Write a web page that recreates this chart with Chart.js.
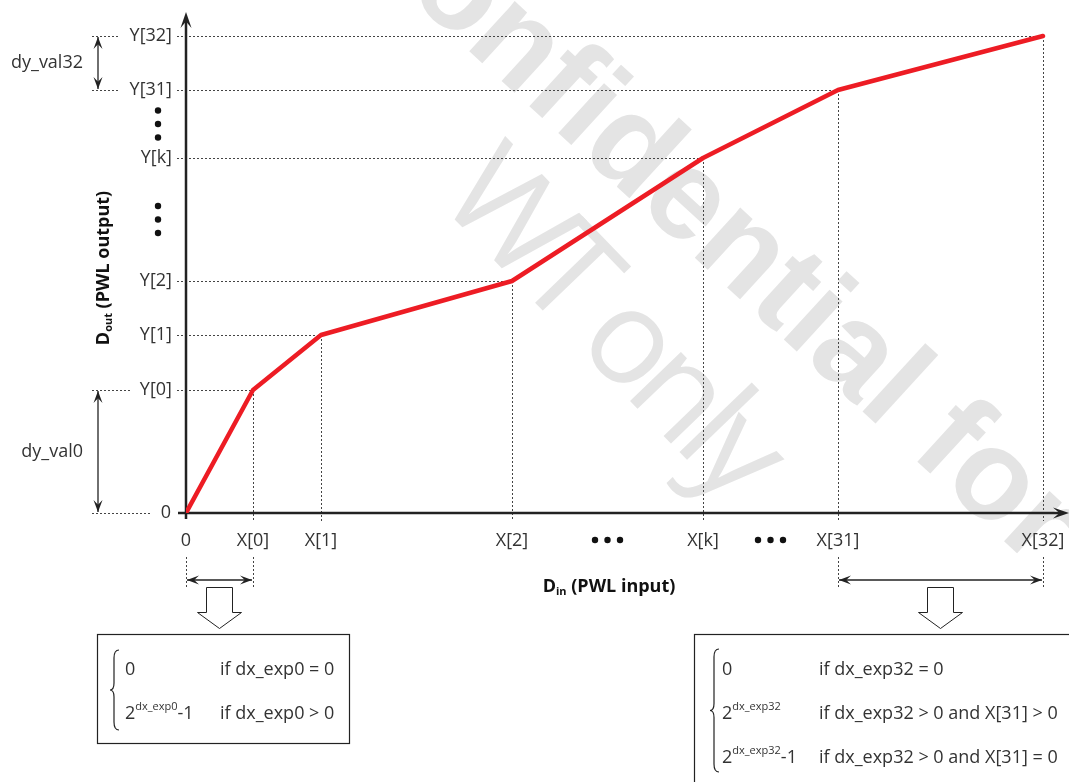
<!DOCTYPE html>
<html>
<head>
<meta charset="utf-8">
<script src="https://cdn.jsdelivr.net/npm/chart.js@4.4.1/dist/chart.umd.min.js"></script>
<style>
  body { margin: 0; background: #fff; }
  #wrap { width: 1069px; height: 782px; }
</style>
</head>
<body>
<div id="wrap"><canvas id="pwlChart"></canvas></div>
<script>
// breakpoints of the piecewise linear curve (arbitrary units)
const xLabels = ['0', 'X[0]', 'X[1]', 'X[2]', 'X[k]', 'X[31]', 'X[32]'];
const yLabels = ['0', 'Y[0]', 'Y[1]', 'Y[2]', 'Y[k]', 'Y[31]', 'Y[32]'];
const xValues = [0, 67, 135, 326, 517, 652, 857];
const yValues = [0, 123, 178, 232, 355, 423, 477];

// ellipsis marks between labels (index of the gap they sit in)
const xGapDots = [[3, 4], [4, 5]];
const yGapDots = [[3, 4], [4, 5]];

const dyLabels = [['dy_val0', 0, 1], ['dy_val32', 5, 6]];
const dxRanges = [[0, 1], [5, 6]];

const leftRows = [
  { lhs: [['0', 0]], rhs: 'if dx_exp0 = 0' },
  { lhs: [['2', 0], ['dx_exp0', 1], ['-1', 0]], rhs: 'if dx_exp0 > 0' }
];
const rightRows = [
  { lhs: [['0', 0]], rhs: 'if dx_exp32 = 0' },
  { lhs: [['2', 0], ['dx_exp32', 1]], rhs: 'if dx_exp32 > 0 and X[31] > 0' },
  { lhs: [['2', 0], ['dx_exp32', 1], ['-1', 0]], rhs: 'if dx_exp32 > 0 and X[31] = 0' }
];

const FONT = '"Open Sans", sans-serif';
const TXT = '#333';
const INK = '#222';

function dotted(ctx, x1, y1, x2, y2) {
  ctx.save();
  ctx.setLineDash([2, 2]);
  ctx.lineWidth = 1;
  ctx.strokeStyle = '#444';
  ctx.beginPath();
  if (x1 === x2) {
    ctx.moveTo(Math.round(x1) + 0.5, y1);
    ctx.lineTo(Math.round(x2) + 0.5, y2);
  } else {
    ctx.moveTo(x1, Math.round(y1) + 0.5);
    ctx.lineTo(x2, Math.round(y2) + 0.5);
  }
  ctx.stroke();
  ctx.restore();
}

function head(ctx, tx, ty, ang, len, half) {
  ctx.save();
  ctx.translate(tx, ty);
  ctx.rotate(ang);
  ctx.beginPath();
  ctx.moveTo(0, 0);
  ctx.lineTo(-len, -half);
  ctx.lineTo(-len * 0.6, 0);
  ctx.lineTo(-len, half);
  ctx.closePath();
  ctx.fill();
  ctx.restore();
}

function dimArrow(ctx, x1, y1, x2, y2) {
  ctx.save();
  ctx.strokeStyle = INK;
  ctx.fillStyle = INK;
  ctx.lineWidth = 1.3;
  ctx.beginPath();
  ctx.moveTo(x1, y1);
  ctx.lineTo(x2, y2);
  ctx.stroke();
  const a = Math.atan2(y2 - y1, x2 - x1);
  head(ctx, x2, y2, a, 12, 4.5);
  head(ctx, x1, y1, a + Math.PI, 12, 4.5);
  ctx.restore();
}

function blockArrow(ctx, cx, top) {
  ctx.save();
  ctx.strokeStyle = INK;
  ctx.lineWidth = 1;
  ctx.beginPath();
  ctx.moveTo(cx - 13, top);
  ctx.lineTo(cx - 13, top + 25);
  ctx.lineTo(cx - 22, top + 25);
  ctx.lineTo(cx, top + 41);
  ctx.lineTo(cx + 22, top + 25);
  ctx.lineTo(cx + 13, top + 25);
  ctx.lineTo(cx + 13, top);
  ctx.closePath();
  ctx.stroke();
  ctx.restore();
}

function brace(ctx, x, y1, y2) {
  const mid = (y1 + y2) / 2;
  ctx.save();
  ctx.strokeStyle = INK;
  ctx.lineWidth = 1.2;
  ctx.beginPath();
  ctx.moveTo(x + 5, y1);
  ctx.quadraticCurveTo(x, y1, x, y1 + 8);
  ctx.lineTo(x, mid - 7);
  ctx.quadraticCurveTo(x, mid, x - 4, mid);
  ctx.quadraticCurveTo(x, mid, x, mid + 7);
  ctx.lineTo(x, y2 - 8);
  ctx.quadraticCurveTo(x, y2, x + 5, y2);
  ctx.stroke();
  ctx.restore();
}

// parts: [text, kind] kind 0 normal, 1 superscript, 2 subscript
function rich(ctx, parts, x, y, size, weight, align) {
  const fontFor = k => `${weight} ${k ? Math.round(size * 0.62) : size}px ${FONT}`;
  let w = 0;
  parts.forEach(([t, k]) => { ctx.font = fontFor(k); w += ctx.measureText(t).width; });
  let cx = align === 'center' ? x - w / 2 : x;
  ctx.textAlign = 'left';
  ctx.textBaseline = 'middle';
  parts.forEach(([t, k]) => {
    ctx.font = fontFor(k);
    const dy = k === 1 ? -size * 0.38 : k === 2 ? size * 0.28 : 0;
    ctx.fillText(t, cx, y + dy);
    cx += ctx.measureText(t).width;
  });
}

function watermark(ctx) {
  ctx.save();
  ctx.fillStyle = '#e4e4e4';
  ctx.textAlign = 'left';
  ctx.textBaseline = 'alphabetic';
  ctx.save();
  ctx.translate(337, -70);
  ctx.rotate(42.5 * Math.PI / 180);
  ctx.font = 'bold 128px "Liberation Sans", Arial, sans-serif';
  ctx.fillText('Confidential for', 0, 0);
  ctx.restore();
  ctx.save();
  ctx.translate(436, 200);
  ctx.rotate(46 * Math.PI / 180);
  ctx.letterSpacing = '-10px';
  ctx.font = `400 132px ${FONT}`;
  ctx.fillText('WT only', 0, 0);
  ctx.restore();
  ctx.restore();
}

const pwlDecor = {
  id: 'pwlDecor',
  beforeDatasetsDraw(chart) {
    const { ctx, scales: { x, y } } = chart;
    const x0 = x.getPixelForValue(0);
    const y0 = y.getPixelForValue(0);
    watermark(ctx);

    // guide lines from each breakpoint to the axes
    for (let i = 1; i < xValues.length; i++) {
      const px = x.getPixelForValue(xValues[i]);
      const py = y.getPixelForValue(yValues[i]);
      dotted(ctx, 177, py, px, py);
      dotted(ctx, px, py, px, y0 + 8);
    }

    // axes with arrow heads
    ctx.save();
    ctx.strokeStyle = INK;
    ctx.fillStyle = INK;
    ctx.lineWidth = 2.5;
    ctx.beginPath();
    ctx.moveTo(x0, y0 + 6);
    ctx.lineTo(x0, chart.chartArea.top + 6);
    ctx.moveTo(x0 - 8, y0);
    ctx.lineTo(chart.chartArea.right - 6, y0);
    ctx.stroke();
    head(ctx, x0, chart.chartArea.top, -Math.PI / 2, 16, 5.5);
    head(ctx, chart.chartArea.right, y0, 0, 16, 5.5);
    ctx.restore();
  },
  afterDatasetsDraw(chart) {
    const { ctx, scales: { x, y } } = chart;
    ctx.save();
    ctx.fillStyle = TXT;

    // tick labels
    ctx.font = `18px ${FONT}`;
    ctx.textBaseline = 'middle';
    ctx.textAlign = 'right';
    yLabels.forEach((l, i) => ctx.fillText(l, i === 0 ? 171 : 172, y.getPixelForValue(yValues[i])));
    ctx.textAlign = 'center';
    xLabels.forEach((l, i) => ctx.fillText(l, x.getPixelForValue(xValues[i]), 541));

    // ellipsis dots
    ctx.fillStyle = '#111';
    xGapDots.forEach(([a, b]) => {
      const c = (x.getPixelForValue(xValues[a]) + x.getPixelForValue(xValues[b])) / 2;
      [-12.5, 0, 12.5].forEach(d => { ctx.beginPath(); ctx.arc(c + d, 540, 3.2, 0, Math.PI * 2); ctx.fill(); });
    });
    yGapDots.forEach(([a, b]) => {
      const c = (y.getPixelForValue(yValues[a]) + y.getPixelForValue(yValues[b])) / 2;
      [-13.5, 0, 13.5].forEach(d => { ctx.beginPath(); ctx.arc(158, c + d, 3.2, 0, Math.PI * 2); ctx.fill(); });
    });

    // vertical dimension arrows on the left
    ctx.fillStyle = TXT;
    dyLabels.forEach(([label, a, b]) => {
      const ya = y.getPixelForValue(yValues[a]);
      const yb = y.getPixelForValue(yValues[b]);
      const ext = a === 0 ? [152, 131] : [118, 118];
      dotted(ctx, 92, ya, ext[0], ya);
      dotted(ctx, 92, yb, ext[1], yb);
      dimArrow(ctx, 98, ya - 1, 98, yb + 1);
      ctx.font = `18px ${FONT}`;
      ctx.textAlign = 'right';
      ctx.textBaseline = 'middle';
      ctx.fillText(label, 83, (ya + yb) / 2);
    });

    // horizontal dimension arrows below the x axis
    dxRanges.forEach(([a, b]) => {
      const xa = x.getPixelForValue(xValues[a]);
      const xb = x.getPixelForValue(xValues[b]);
      dotted(ctx, xa, 557, xa, 587);
      dotted(ctx, xb, 557, xb, 587);
      dimArrow(ctx, xa + 1, 580, xb - 1, 580);
      blockArrow(ctx, (xa + xb) / 2, 587.5);
    });

    // axis titles
    ctx.fillStyle = '#111';
    rich(ctx, [['D', 0], ['in', 2], [' (PWL input)', 0]], 609, 587, 18, 'bold', 'center');
    ctx.save();
    ctx.translate(104, 268);
    ctx.rotate(-Math.PI / 2);
    rich(ctx, [['D', 0], ['out', 2], [' (PWL output)', 0]], 0, 0, 18, 'bold', 'center');
    ctx.restore();

    // formula boxes
    ctx.strokeStyle = INK;
    ctx.lineWidth = 1.2;
    ctx.strokeRect(97.5, 634.5, 252, 109);
    ctx.strokeRect(694.5, 634.5, 400, 160);
    brace(ctx, 114, 650, 730);
    brace(ctx, 714, 649, 772);
    ctx.fillStyle = TXT;
    leftRows.forEach((r, i) => {
      const ry = 670 + i * 44;
      rich(ctx, r.lhs, 125, ry, 18, 'normal', 'left');
      rich(ctx, [[r.rhs, 0]], 220, ry, 18, 'normal', 'left');
    });
    rightRows.forEach((r, i) => {
      const ry = 670 + i * 44;
      rich(ctx, r.lhs, 722, ry, 18, 'normal', 'left');
      rich(ctx, [[r.rhs, 0]], 819, ry, 18, 'normal', 'left');
    });
    ctx.restore();
  }
};

new Chart(document.getElementById('pwlChart'), {
  type: 'scatter',
  data: {
    datasets: [{
      data: xValues.map((v, i) => ({ x: v, y: yValues[i] })),
      showLine: true,
      borderColor: '#ed1c24',
      borderWidth: 4.5,
      pointRadius: 0,
      tension: 0,
      borderJoinStyle: 'round',
      borderCapStyle: 'round'
    }]
  },
  options: {
    responsive: true,
    maintainAspectRatio: false,
    animation: false,
    layout: { padding: { left: 186, right: 0, top: 12, bottom: 269 } },
    scales: {
      x: { type: 'linear', min: 0, max: 883, display: false },
      y: { type: 'linear', min: 0, max: 501, display: false }
    },
    plugins: { legend: { display: false }, tooltip: { enabled: false } }
  },
  plugins: [pwlDecor]
});
</script>
</body>
</html>
